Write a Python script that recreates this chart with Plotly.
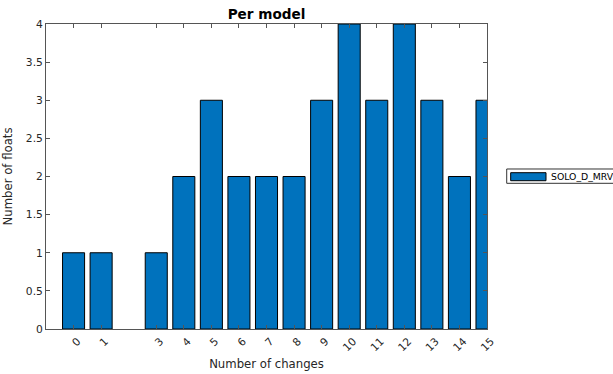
import plotly.graph_objects as go

# Histogram of how many floats saw a given number of changes
changes = [0, 1, 3, 4, 5, 6, 7, 8, 9, 10, 11, 12, 13, 14, 15]
floats = [1, 1, 1, 2, 3, 2, 2, 2, 3, 4, 3, 4, 3, 2, 3]
series_name = "SOLO_D_MRV"
y_ticks = [0, 0.5, 1, 1.5, 2, 2.5, 3, 3.5, 4]

BLUE = "#0072BD"
INK = "#262626"
AXIS = "#555555"
FONT = "DejaVu Sans"

fig = go.Figure()
fig.add_trace(go.Bar(
    x=changes, y=floats, name=series_name, width=0.8,
    marker=dict(color=BLUE, line=dict(color="#000000", width=1)),
    showlegend=False,
))

axis_common = dict(
    showgrid=False, zeroline=False, showline=True, linecolor=AXIS, linewidth=1,
    mirror="ticks", ticks="inside", ticklen=4, tickcolor=AXIS, tickwidth=1,
    tickfont=dict(family=FONT, size=10.7, color=INK), automargin=False,
)

fig.update_xaxes(
    range=[-1, 15], tickvals=changes, ticktext=[str(c) for c in changes],
    tickangle=-45, ticklabelshift=4, ticklabelstandoff=1,
    title=dict(text="Number of changes", font=dict(family=FONT, size=11.7, color=INK), standoff=6),
    **axis_common,
)
fig.update_yaxes(
    range=[0, 4], tickvals=y_ticks, ticktext=[f"{v:g}" for v in y_ticks],
    title=dict(text="Number of floats", font=dict(family=FONT, size=11.7, color=INK), standoff=10),
    **axis_common,
)

# Legend box drawn in paper coordinates to the right of the axes
fig.add_shape(type="rect", xref="paper", yref="paper",
              x0=1.0447, x1=1.5, y0=0.4777, y1=0.5246,
              line=dict(color="#333333", width=1), fillcolor="white", layer="above")
fig.add_shape(type="rect", xref="paper", yref="paper",
              x0=1.0537, x1=1.1338, y0=0.4862, y1=0.5125,
              line=dict(color="#000000", width=1), fillcolor=BLUE, layer="above")
fig.add_annotation(xref="paper", yref="paper", x=1.1413, y=0.5016,
                   xanchor="left", yanchor="middle", showarrow=False,
                   text=series_name, font=dict(family=FONT, size=9.3, color="#000000"))

fig.update_layout(
    width=613, height=374,
    margin=dict(l=46, r=126, t=24, b=45),
    paper_bgcolor="white", plot_bgcolor="white",
    title=dict(text="<b>Per model</b>", x=(46 + 441 / 2) / 613, xanchor="center",
               y=1 - 14 / 374, yanchor="middle",
               font=dict(family=FONT, size=13.6, color="#000000")),
    bargap=0.2,
)

fig.write_html("out.html")
